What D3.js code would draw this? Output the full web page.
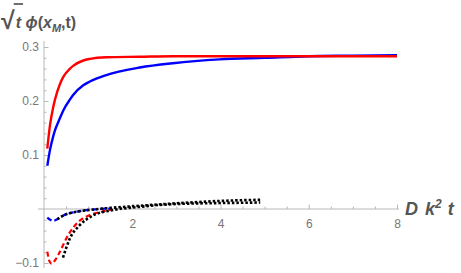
<!DOCTYPE html>
<html>
<head>
<meta charset="utf-8">
<script src="https://cdn.jsdelivr.net/npm/d3@7"></script>
<style>
  body { margin: 0; background: #fff; }
  .tick text { font-family: "Liberation Sans", Arial, sans-serif; font-size: 12px; fill: #777; }
  .tick line { stroke: #b8b8b8; }
</style>
</head>
<body>
<div id="chart"></div>
<script>
// values
var tSolid   = [0.075, 0.135, 0.21, 0.25, 0.36, 0.44, 0.59, 0.66, 0.89, 1.04, 1.41, 2.17, 2.92, 3.97, 5, 6, 7, 8];
var redSolid = [0.112, 0.155, 0.189, 0.203, 0.231, 0.245, 0.260, 0.265, 0.275, 0.278, 0.281, 0.282, 0.283, 0.283, 0.283, 0.283, 0.283, 0.283];
var blueSolid= [0.080, 0.109, 0.135, 0.146, 0.168, 0.183, 0.203, 0.211, 0.229, 0.236, 0.248, 0.262, 0.270, 0.277, 0.280, 0.283, 0.284, 0.285];

var tRedDash = [0.075, 0.12, 0.17, 0.25, 0.36, 0.55, 0.74, 1.04, 1.3, 1.55];
var redDash  = [-0.079, -0.096, -0.101, -0.095, -0.079, -0.048, -0.027, -0.011, -0.005, -0.001];

var tBlueDash = [0.075, 0.14, 0.21, 0.3, 0.44, 0.74, 1.11, 1.5];
var blueDash  = [-0.016, -0.020, -0.022, -0.019, -0.012, -0.005, -0.001, 0.001];

var tDotA = [0.43, 0.59, 0.81, 1.11, 1.56, 2.17, 2.7, 3.3, 4.0, 4.9];
var dotA  = [-0.090, -0.054, -0.030, -0.012, -0.002, 0.004, 0.008, 0.010, 0.011, 0.012];

var tDotB = [0.3, 0.44, 0.74, 1.11, 1.5, 2.17, 2.7, 3.3, 4.0, 4.9];
var dotB  = [-0.019, -0.012, -0.005, -0.001, 0.002, 0.006, 0.009, 0.012, 0.015, 0.017];

var xMajor = [2, 4, 6, 8];
var yMajor = [-0.1, 0.1, 0.2, 0.3];

var svgWidth = 461, svgHeight = 273;

var svg = d3.select("#chart")
  .append("svg")
  .attr("width", svgWidth)
  .attr("height", svgHeight);

var x = d3.scaleLinear().domain([0, 8]).range([44, 397]);
var y = d3.scaleLinear().domain([-0.1, 0.3]).range([263, 47]);

var axisColor = "#b8b8b8";

// axis lines
svg.append("line")
  .attr("x1", x(0)).attr("x2", x(0))
  .attr("y1", 41).attr("y2", 268)
  .attr("stroke", axisColor);
svg.append("line")
  .attr("x1", 38).attr("x2", 399)
  .attr("y1", y(0)).attr("y2", y(0))
  .attr("stroke", axisColor);

// minor ticks
var xMinor = d3.range(0.5, 8.01, 0.5).filter(d => xMajor.indexOf(d) < 0);
var yMinor = d3.range(-0.1, 0.301, 0.02).filter(d => Math.abs(Math.round(d * 10) - d * 10) > 0.01);

svg.append("g")
  .attr("transform", `translate(0, ${y(0)})`)
  .call(d3.axisBottom(x).tickValues(xMinor).tickSize(-2.5).tickFormat(""))
  .call(g => g.select(".domain").remove());
svg.append("g")
  .attr("transform", `translate(${x(0)}, 0)`)
  .call(d3.axisLeft(y).tickValues(yMinor).tickSize(-2.5).tickFormat(""))
  .call(g => g.select(".domain").remove());

// major ticks with labels
svg.append("g")
  .attr("transform", `translate(0, ${y(0)})`)
  .call(d3.axisBottom(x).tickValues(xMajor).tickSize(-4.5).tickPadding(10).tickFormat(d3.format("d")))
  .call(g => g.select(".domain").remove());
svg.append("g")
  .attr("transform", `translate(${x(0)}, 0)`)
  .call(d3.axisLeft(y).tickValues(yMajor).tickSize(-4.5).tickPadding(5).tickFormat(d => d < 0 ? "\u2212" + Math.abs(d) : d))
  .call(g => g.select(".domain").remove());

// curves
function draw(ts, vs, color, width, dash) {
  var pts = ts.map((t, i) => [t, vs[i]]);
  var line = d3.line()
    .x(d => x(d[0]))
    .y(d => y(d[1]))
    .curve(d3.curveMonotoneX);
  svg.append("path")
    .datum(pts)
    .attr("d", line)
    .attr("fill", "none")
    .attr("stroke", color)
    .attr("stroke-width", width)
    .attr("stroke-dasharray", dash);
}

draw(tSolid, blueSolid, "#0000ff", 2.4, null);
draw(tSolid, redSolid, "#ff0000", 2.4, null);
draw(tRedDash, redDash, "#ff0000", 2.2, "5,3");
draw(tBlueDash, blueDash, "#0000ff", 2.2, "5,3");
draw(tDotA, dotA, "#000", 2.6, "2.5,2");
draw(tDotB, dotB, "#000", 2.6, "2.5,2");

// title
var title = svg.append("text")
  .attr("x", 1)
  .attr("y", 28)
  .style("font-family", "'Liberation Sans', Arial, sans-serif")
  .style("font-size", "16px")
  .style("font-weight", "bold")
  .style("fill", "#555");
title.append("tspan").style("font-size", "25px").attr("dy", 1).text("\u221A");
title.append("tspan").style("font-style", "italic").attr("dy", -1).attr("dx", 1).text("t");
title.append("tspan").text(" ");
title.append("tspan").style("font-style", "italic").text("\u03D5");
title.append("tspan").text("(");
title.append("tspan").style("font-style", "italic").text("x");
title.append("tspan").style("font-style", "italic").style("font-size", "11px").attr("dy", 4).text("M");
title.append("tspan").attr("dy", -4).text(",t)");

// bar over the radicand
var titleNode = title.node();
var radEnd = titleNode.getStartPositionOfChar(1).x;
var tEnd = titleNode.getEndPositionOfChar(1).x;
svg.append("line")
  .attr("x1", radEnd - 2).attr("x2", tEnd + 2)
  .attr("y1", 4).attr("y2", 4)
  .attr("stroke", "#555").attr("stroke-width", 1.7);

// x axis label
var xl = svg.append("text")
  .attr("x", 405)
  .attr("y", 215)
  .style("font-family", "'Liberation Sans', Arial, sans-serif")
  .style("font-size", "18px")
  .style("font-weight", "bold")
  .style("font-style", "italic")
  .style("fill", "#555");
xl.append("tspan").text("D");
xl.append("tspan").attr("dx", 7).text("k");
xl.append("tspan").style("font-size", "12px").attr("dy", -7).text("2");
xl.append("tspan").attr("dy", 7).attr("dx", 6).text("t");
</script>
</body>
</html>
